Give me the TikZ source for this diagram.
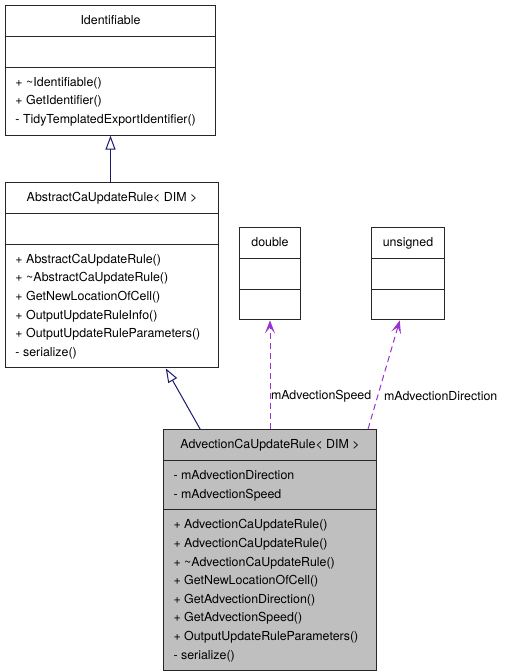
\documentclass[tikz,border=0pt]{standalone}
\usepackage{fontspec}
\setmainfont{TeX Gyre Heros}
\usetikzlibrary{shapes.multipart, arrows.meta, positioning}
\definecolor{navyline}{HTML}{191970}
\definecolor{usagepurple}{HTML}{9A32CD}
\tikzset{
  umlclass/.style={
    rectangle split, rectangle split parts=3, draw=black!85, line width=1pt,
    rectangle split part align={center,left,left},
    inner xsep=10pt, inner ysep=5.6pt, anchor=north west, align=left,
    font=\fontsize{12.4}{18.6}\selectfont
  },
  inheritarrow/.style={
    -{Triangle[open, length=14pt, width=10pt]}, draw=navyline, line width=1pt
  },
  usagearrow/.style={
    -{Stealth[length=13pt, width=10pt, inset=6pt]}, draw=usagepurple,
    line width=1pt, dash pattern=on 6pt off 4pt
  }
}

\begin{document}
\begin{tikzpicture}[
  x=1pt, y=-1pt,
  every node/.style={font=\fontsize{12.4}{18.6}\selectfont}
]
\useasboundingbox (0,0) rectangle (509,672);

% Base classes
\node[umlclass, minimum width=210] (ident) at (5,5) {\strut Identifiable
  \nodepart{second}\strut
  \nodepart{third}\strut + \textasciitilde Identifiable()\\
  + GetIdentifier()\\
  - TidyTemplatedExportIdentifier()\strut};
\node[umlclass, minimum width=213] (abstract) at (5,182) {\strut AbstractCaUpdateRule< DIM >
  \nodepart{second}\strut
  \nodepart{third}\strut + AbstractCaUpdateRule()\\
  + \textasciitilde AbstractCaUpdateRule()\\
  + GetNewLocationOfCell()\\
  + OutputUpdateRuleInfo()\\
  + OutputUpdateRuleParameters()\\
  - serialize()\strut};

% Member types
\node[umlclass, minimum width=61] (double) at (239,227) {\strut double
  \nodepart{second}\strut
  \nodepart{third}\strut};
\node[umlclass, minimum width=73] (unsigned) at (371,227) {\strut unsigned
  \nodepart{second}\strut
  \nodepart{third}\strut};

% Derived class
\node[umlclass, minimum width=213, fill=black!25] (advection) at (163,429) {\strut AdvectionCaUpdateRule< DIM >
  \nodepart{second}\strut - mAdvectionDirection\\
  - mAdvectionSpeed\strut
  \nodepart{third}\strut + AdvectionCaUpdateRule()\\
  + AdvectionCaUpdateRule()\\
  + \textasciitilde AdvectionCaUpdateRule()\\
  + GetNewLocationOfCell()\\
  + GetAdvectionDirection()\\
  + GetAdvectionSpeed()\\
  + OutputUpdateRuleParameters()\\
  - serialize()\strut};

% Inheritance
\draw[inheritarrow] (ident.south |- abstract.north) -- (ident.south);
\draw[inheritarrow] (advection.120) -- (abstract.-60);

% Members
\draw[usagearrow] (advection.north) -- node[pos=0.3, anchor=west, inner sep=0.5pt] (speedlabel) {mAdvectionSpeed} (double.south);
\draw[usagearrow] (advection.51) -- node[pos=0.3, anchor=west, inner xsep=6pt, inner ysep=0.5pt] (directionlabel) {mAdvectionDirection} (unsigned.-100);

\end{tikzpicture}
\end{document}
